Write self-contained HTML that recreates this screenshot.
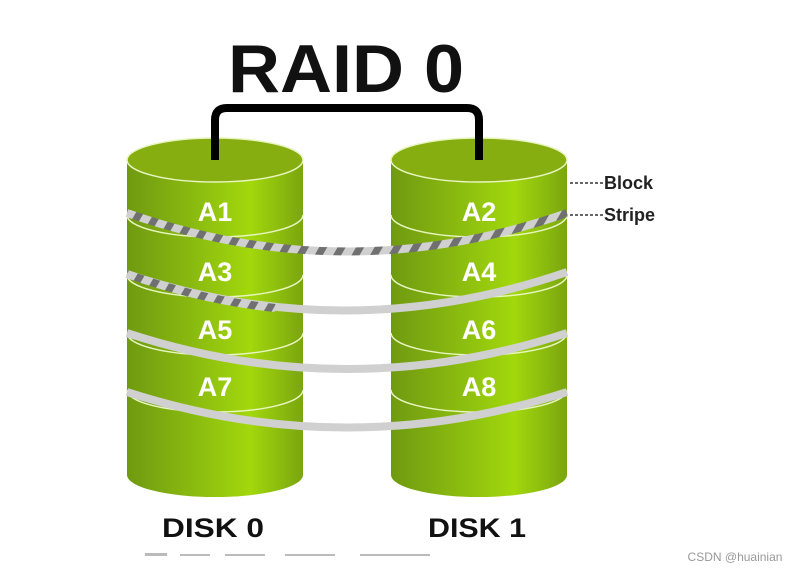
<!DOCTYPE html>
<html><head><meta charset="utf-8"><style>
html,body{margin:0;padding:0;background:#fff;width:797px;height:570px;overflow:hidden}
svg{display:block}
text{font-family:"Liberation Sans",sans-serif;font-weight:bold}
</style></head><body>
<svg width="797" height="570" viewBox="0 0 797 570">
<defs>
<linearGradient id="g" x1="0" x2="1" y1="0" y2="0">
<stop offset="0" stop-color="#6f9a10"/>
<stop offset="0.35" stop-color="#88b810"/>
<stop offset="0.7" stop-color="#a2d80c"/>
<stop offset="1" stop-color="#7aa510"/>
</linearGradient>
<pattern id="dash" width="16" height="16" patternUnits="userSpaceOnUse" patternTransform="rotate(30)">
<rect width="16" height="16" fill="#d0d0d0"/><rect width="7" height="16" fill="#707070"/>
</pattern>
</defs>
<text x="346" y="92" font-size="68" text-anchor="middle" fill="#111" textLength="236" lengthAdjust="spacingAndGlyphs">RAID 0</text>
<path d="M215 160 V120 Q215 108 227 108 H467 Q479 108 479 120 V160" fill="none" stroke="#000" stroke-width="8"/>
<g>
<path d="M127 160 V475 A88 22 0 0 0 303 475 V160 Z" fill="url(#g)"/>
<path d="M391 160 V475 A88 22 0 0 0 567 475 V160 Z" fill="url(#g)"/>
<g fill="none" stroke="#e8f5c0" stroke-width="1.5">
<path d="M127 215 A88 22 0 0 0 303 215"/><path d="M127 275 A88 22 0 0 0 303 275"/>
<path d="M127 333 A88 22 0 0 0 303 333"/><path d="M127 390 A88 22 0 0 0 303 390"/>
<path d="M391 215 A88 22 0 0 0 567 215"/><path d="M391 275 A88 22 0 0 0 567 275"/>
<path d="M391 333 A88 22 0 0 0 567 333"/><path d="M391 390 A88 22 0 0 0 567 390"/>
</g>
<ellipse cx="215" cy="160" rx="88" ry="22" fill="#86ae10" stroke="#e8f5c0" stroke-width="1.5"/>
<ellipse cx="479" cy="160" rx="88" ry="22" fill="#86ae10" stroke="#e8f5c0" stroke-width="1.5"/>
<rect x="211" y="120" width="8" height="40" fill="#000"/>
<rect x="475" y="120" width="8" height="40" fill="#000"/>
</g>
<g fill="none" stroke-width="8">
<path d="M127 213 Q347 290 567 213" stroke="url(#dash)"/>
<path d="M127 274 Q347 348 567 272" stroke="#d0d0d0"/>
<path d="M127 274 Q200 300 275 308" stroke="url(#dash)"/>
<path d="M127 333 Q347 405 567 333" stroke="#d0d0d0"/>
<path d="M127 392 Q347 463 567 392" stroke="#d0d0d0"/>
</g>
<g fill="#fff" font-size="27" text-anchor="middle">
<text x="215" y="221">A1</text><text x="479" y="221">A2</text>
<text x="215" y="281">A3</text><text x="479" y="281">A4</text>
<text x="215" y="339">A5</text><text x="479" y="339">A6</text>
<text x="215" y="396">A7</text><text x="479" y="396">A8</text>
</g>
<g stroke="#333" stroke-width="1.5" stroke-dasharray="3,2">
<line x1="570" y1="183" x2="603" y2="183"/><line x1="570" y1="215" x2="603" y2="215"/>
</g>
<text x="604" y="189" font-size="18" fill="#222">Block</text>
<text x="604" y="221" font-size="18" fill="#222">Stripe</text>
<text x="213" y="537" font-size="27" text-anchor="middle" fill="#111" textLength="102" lengthAdjust="spacingAndGlyphs">DISK 0</text>
<text x="477" y="537" font-size="27" text-anchor="middle" fill="#111" textLength="98" lengthAdjust="spacingAndGlyphs">DISK 1</text>
<g fill="#bbb"><rect x="145" y="553" width="22" height="3"/><rect x="180" y="554" width="30" height="2"/><rect x="225" y="554" width="40" height="2"/><rect x="285" y="554" width="50" height="2"/><rect x="360" y="554" width="70" height="2"/></g>
<text x="735" y="561" font-size="12" style="font-weight:normal" text-anchor="middle" fill="#999">CSDN @huainian</text>
</svg>
</body></html>
